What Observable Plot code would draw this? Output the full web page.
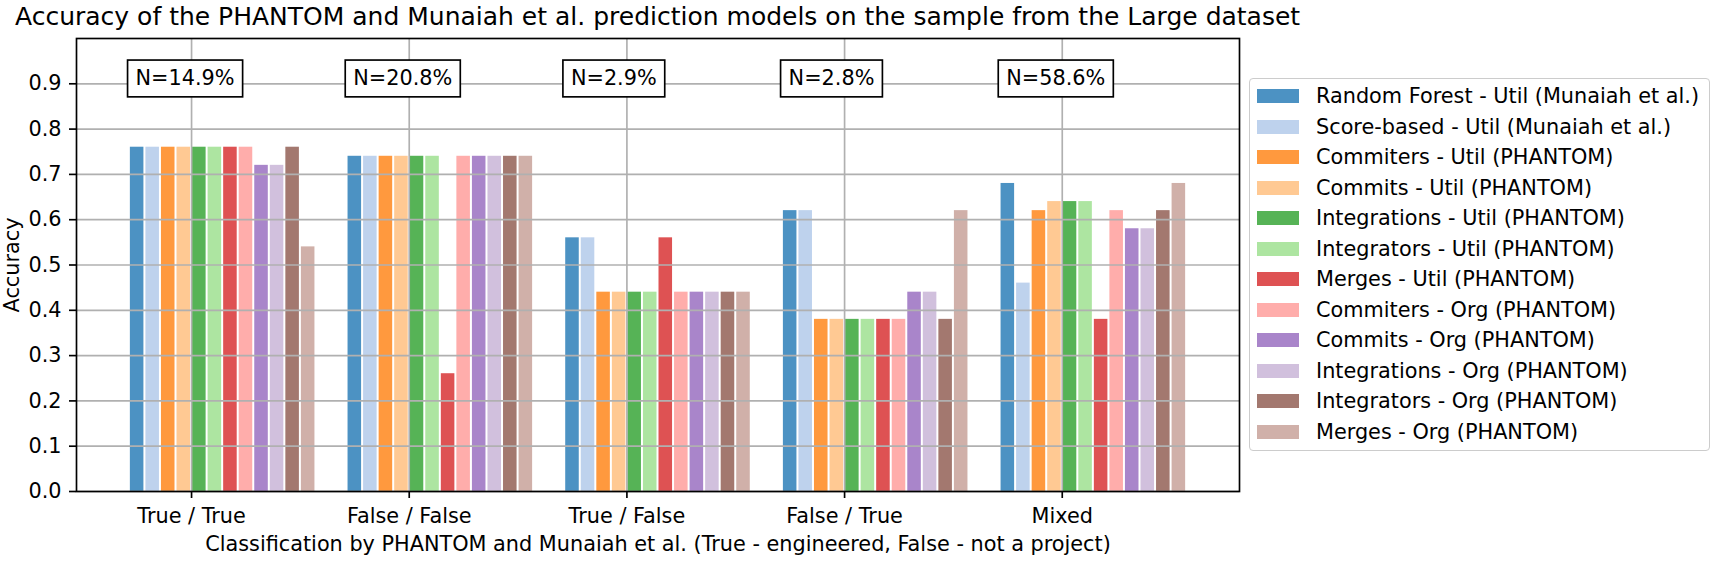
<!DOCTYPE html>
<html>
<head>
<meta charset="utf-8">
<script src="https://cdn.jsdelivr.net/npm/d3@7"></script>
<script src="https://cdn.jsdelivr.net/npm/@observablehq/plot@0.6"></script>
<style>
  body { margin: 0; background: #fff; font-family: "DejaVu Sans", sans-serif; }
  #wrap { position: relative; width: 1717px; height: 567px; overflow: hidden; }
  #title { position: relative; height: 30px; padding-left: 15px; padding-top: 2px; box-sizing: border-box;
           font-size: 25px; line-height: 30px; white-space: nowrap; color: #000; }
  #chart svg { display: block; }
  #legend { position: absolute; left: 1249px; top: 78px; width: 461px; height: 373px; box-sizing: border-box;
            border: 1px solid #cccccc; border-radius: 4px; background: rgba(255,255,255,0.8); padding-top: 1.7px; }
  .row { display: flex; align-items: center; height: 30.55px; }
  .sw { width: 42px; height: 14px; margin-left: 7px; margin-right: 17px; flex: none; }
  .lab { font-size: 20.8px; white-space: nowrap; color: #000; }
</style>
</head>
<body>
<div id="wrap">
  <div id="title"></div>
  <div id="chart"></div>
  <div id="legend"></div>
</div>
<script>
const titleText = "Accuracy of the PHANTOM and Munaiah et al. prediction models on the sample from the Large dataset";
const xLabel = "Classification by PHANTOM and Munaiah et al. (True - engineered, False - not a project)";
const yLabel = "Accuracy";

const categories = ["True / True", "False / False", "True / False", "False / True", "Mixed"];
const nLabels = ["N=14.9%", "N=20.8%", "N=2.9%", "N=2.8%", "N=58.6%"];

const series = [
  "Random Forest - Util (Munaiah et al.)",
  "Score-based - Util (Munaiah et al.)",
  "Commiters - Util (PHANTOM)",
  "Commits - Util (PHANTOM)",
  "Integrations - Util (PHANTOM)",
  "Integrators - Util (PHANTOM)",
  "Merges - Util (PHANTOM)",
  "Commiters - Org (PHANTOM)",
  "Commits - Org (PHANTOM)",
  "Integrations - Org (PHANTOM)",
  "Integrators - Org (PHANTOM)",
  "Merges - Org (PHANTOM)"
];
const colors = ["#1f77b4", "#aec7e8", "#ff7f0e", "#ffbb78", "#2ca02c", "#98df8a",
                "#d62728", "#ff9896", "#9467bd", "#c5b0d5", "#8c564b", "#c49c94"];

// Accuracy per series, in category order
const randomForestUtil  = [0.76, 0.74, 0.56, 0.62, 0.68];
const scoreBasedUtil    = [0.76, 0.74, 0.56, 0.62, 0.46];
const commitersUtil     = [0.76, 0.74, 0.44, 0.38, 0.62];
const commitsUtil       = [0.76, 0.74, 0.44, 0.38, 0.64];
const integrationsUtil  = [0.76, 0.74, 0.44, 0.38, 0.64];
const integratorsUtil   = [0.76, 0.74, 0.44, 0.38, 0.64];
const mergesUtil        = [0.76, 0.26, 0.56, 0.38, 0.38];
const commitersOrg      = [0.76, 0.74, 0.44, 0.38, 0.62];
const commitsOrg        = [0.72, 0.74, 0.44, 0.44, 0.58];
const integrationsOrg   = [0.72, 0.74, 0.44, 0.44, 0.58];
const integratorsOrg    = [0.76, 0.74, 0.44, 0.38, 0.62];
const mergesOrg         = [0.54, 0.74, 0.44, 0.62, 0.68];

const seriesValues = [randomForestUtil, scoreBasedUtil, commitersUtil, commitsUtil, integrationsUtil,
  integratorsUtil, mergesUtil, commitersOrg, commitsOrg, integrationsOrg, integratorsOrg, mergesOrg];

const yTicks = d3.range(0, 10).map(i => i / 10);

// build table
const nS = series.length;
const w = 1 / (nS + 2);
const bars = [];
seriesValues.forEach((vals, s) => {
  vals.forEach((v, c) => {
    bars.push({series: series[s], cat: c, s, value: v});
  });
});
const lo = -4 * w, hi = (categories.length - 1) + (nS - 4) * w;
const pad = 0.05 * (hi - lo);
const catIdx = categories.map((d, i) => i);

document.getElementById("title").textContent = titleText;

const chart = Plot.plot({
  width: 1717,
  height: 537,
  marginLeft: 76,
  marginRight: 478,
  marginTop: 8,
  marginBottom: 76,
  x: {type: "linear", domain: [lo - pad, hi + pad]},
  y: {domain: [0, 1]},
  color: {domain: series, range: colors},
  style: {fontFamily: "DejaVu Sans", fontSize: "20.8px", color: "black", background: "white", overflow: "visible"},
  marks: [
    Plot.rectY(bars, {
      x1: d => d.cat + (d.s - 4) * w,
      x2: d => d.cat + (d.s - 3) * w,
      y: "value",
      fill: "series",
      fillOpacity: 0.8,
      insetLeft: 1,
      insetRight: 1
    }),
    Plot.gridY(yTicks, {stroke: "#b0b0b0", strokeOpacity: 1, strokeWidth: 1.67}),
    Plot.gridX(catIdx, {stroke: "#b0b0b0", strokeOpacity: 1, strokeWidth: 1.67}),
    Plot.axisY(yTicks, {tickSize: 7, tickPadding: 8, strokeWidth: 1.67, tickFormat: d => d.toFixed(1), label: null}),
    Plot.axisX(catIdx, {tickSize: 7, tickPadding: 10, strokeWidth: 1.67, tickFormat: i => categories[i], label: null}),
    Plot.frame({stroke: "black", strokeWidth: 1.67}),
    Plot.text(nLabels, {x: (d, i) => i, y: () => 0.9, text: d => d, textAnchor: "start", lineAnchor: "middle",
      dx: -56, dy: -5, fill: "black"}),
    Plot.text([yLabel], {frameAnchor: "left", rotate: -90, dx: -64, text: d => d, fill: "black",
      textAnchor: "middle", lineAnchor: "middle"}),
    Plot.text([xLabel], {frameAnchor: "bottom", dy: 52.6, text: d => d, fill: "black",
      textAnchor: "middle", lineAnchor: "middle"})
  ]
});
document.getElementById("chart").appendChild(chart);

// boxes around N labels
const padX = 8, padY = 6.4;
Array.from(chart.querySelectorAll("g text"))
  .filter(t => nLabels.includes(t.textContent))
  .forEach(t => {
    const bb = t.getBBox();
    const r = document.createElementNS("http://www.w3.org/2000/svg", "rect");
    r.setAttribute("x", bb.x - padX);
    r.setAttribute("y", bb.y - padY);
    r.setAttribute("width", bb.width + 2 * padX);
    r.setAttribute("height", bb.height + 2 * padY);
    const tr = t.getAttribute("transform");
    if (tr) r.setAttribute("transform", tr);
    r.setAttribute("fill", "white");
    r.setAttribute("stroke", "black");
    r.setAttribute("stroke-width", 1.67);
    t.parentNode.insertBefore(r, t);
  });

// legend
const legend = d3.select("#legend");
series.forEach((name, i) => {
  const row = legend.append("div").attr("class", "row");
  row.append("div").attr("class", "sw").style("background", colors[i]).style("opacity", 0.8);
  row.append("div").attr("class", "lab").text(name);
});
</script>
</body>
</html>
